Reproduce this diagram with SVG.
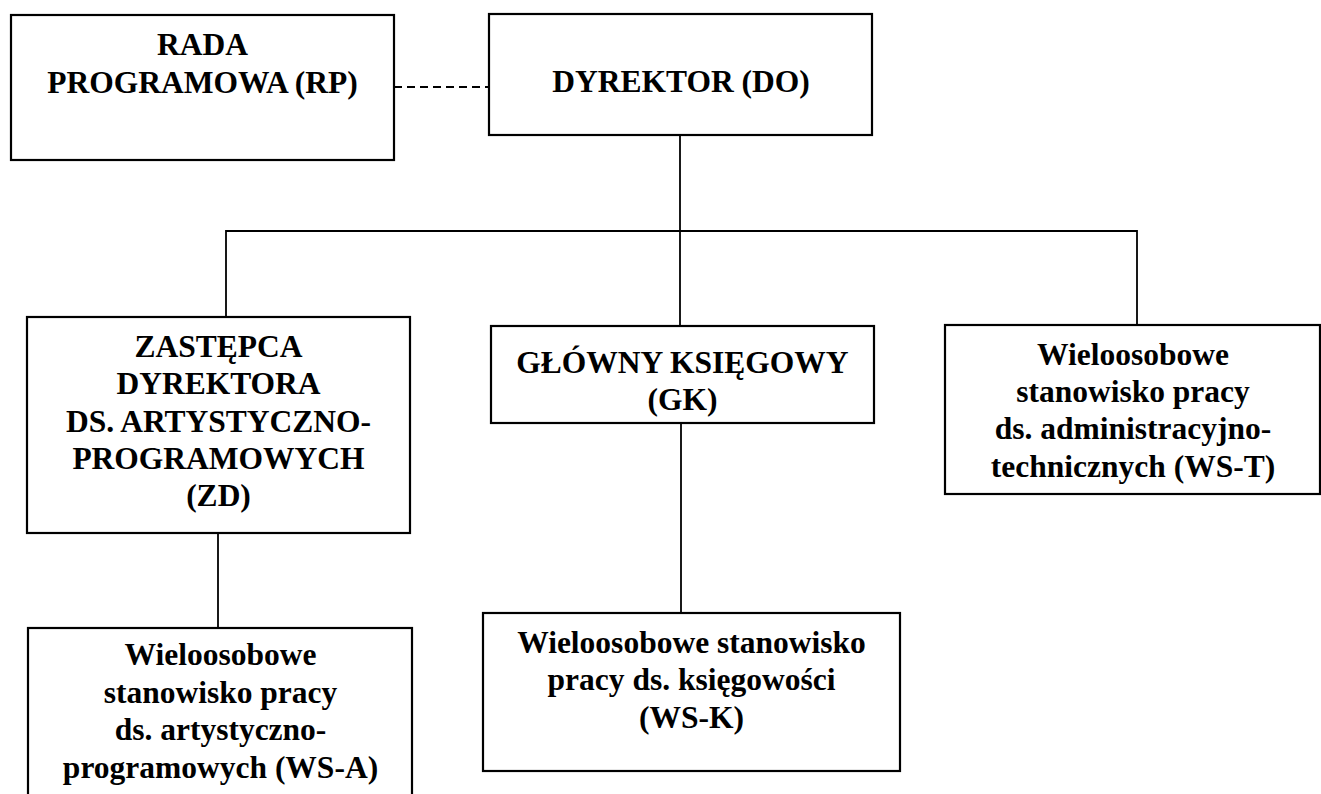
<svg xmlns="http://www.w3.org/2000/svg" width="1321" height="794" viewBox="0 0 1321 794">
<style>
.box{fill:#fff;stroke:#000;stroke-width:2.2}
.t{font-weight:bold;font-size:31.5px;text-anchor:middle;fill:#000}
.c{stroke:#000;stroke-width:1.8;fill:none}
.d{stroke:#000;stroke-width:1.8;fill:none;stroke-dasharray:8,5}
</style>
<rect width="1321" height="794" fill="#fff"/>
<g id="connectors">
<line class="d" x1="394" y1="87" x2="489" y2="87"/>
<line class="c" x1="680" y1="135" x2="680" y2="231"/>
<polyline class="c" points="226,317 226,231 1137,231 1137,325"/>
<line class="c" x1="680" y1="231" x2="680" y2="326"/>
<line class="c" x1="218" y1="533" x2="218" y2="628"/>
<line class="c" x1="681" y1="423" x2="681" y2="613"/>
</g>
<g font-family="Liberation Serif, DejaVu Serif, serif">
<g id="RP">
<rect class="box" x="11" y="15" width="383" height="145"/>
<text class="t" x="202.5" y="55">RADA</text>
<text class="t" x="202.5" y="93">PROGRAMOWA (RP)</text>
</g>
<g id="DO">
<rect class="box" x="489" y="14" width="383" height="121"/>
<text class="t" x="681" y="92">DYREKTOR (DO)</text>
</g>
<g id="ZD">
<rect class="box" x="27" y="317" width="383" height="216"/>
<text class="t" x="218.5" y="357">ZASTĘPCA</text>
<text class="t" x="218.5" y="394">DYREKTORA</text>
<text class="t" x="218.5" y="432">DS. ARTYSTYCZNO-</text>
<text class="t" x="218.5" y="469">PROGRAMOWYCH</text>
<text class="t" x="218.5" y="506">(ZD)</text>
</g>
<g id="GK">
<rect class="box" x="491" y="326" width="383" height="97"/>
<text class="t" x="682.5" y="373">GŁÓWNY KSIĘGOWY</text>
<text class="t" x="682.5" y="410">(GK)</text>
</g>
<g id="WST">
<rect class="box" x="945" y="325" width="375" height="169"/>
<text class="t" x="1133" y="365">Wieloosobowe</text>
<text class="t" x="1133" y="402">stanowisko pracy</text>
<text class="t" x="1133" y="439">ds. administracyjno-</text>
<text class="t" x="1133" y="477">technicznych (WS-T)</text>
</g>
<g id="WSA">
<rect class="box" x="28" y="628" width="384" height="180"/>
<text class="t" x="220.5" y="665">Wieloosobowe</text>
<text class="t" x="220.5" y="703">stanowisko pracy</text>
<text class="t" x="220.5" y="740">ds. artystyczno-</text>
<text class="t" x="220.5" y="778">programowych (WS-A)</text>
</g>
<g id="WSK">
<rect class="box" x="483" y="613" width="417" height="158"/>
<text class="t" x="691.5" y="653">Wieloosobowe stanowisko</text>
<text class="t" x="691.5" y="690">pracy ds. księgowości</text>
<text class="t" x="691.5" y="728">(WS-K)</text>
</g>
</g>
</svg>
